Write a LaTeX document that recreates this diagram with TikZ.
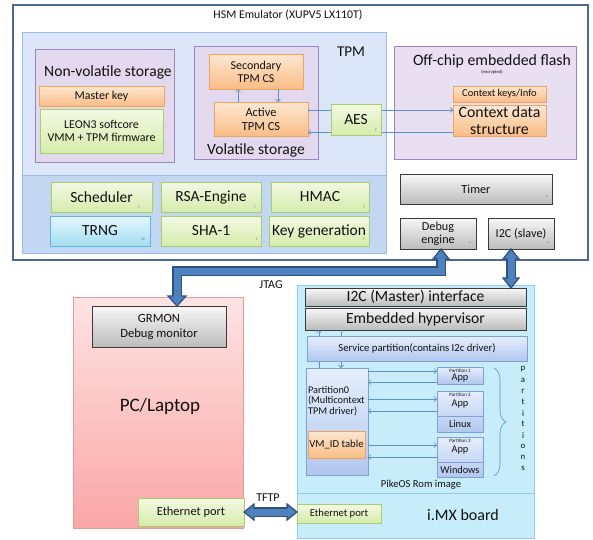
\documentclass[tikz,border=0pt]{standalone}
\usepackage{fontspec}
\setmainfont{Carlito}
\usetikzlibrary{calc,arrows.meta,shadows,decorations.pathreplacing}

\definecolor{ink}{HTML}{111111}
\definecolor{outerBd}{HTML}{4A6A94}
\definecolor{tpmFill}{HTML}{DBE6F9}
\definecolor{tpmLow}{HTML}{C3D7F3}
\definecolor{tpmBd}{HTML}{9DBBE6}
\definecolor{puFill}{HTML}{E3D9EE}
\definecolor{puLight}{HTML}{E8DFF2}
\definecolor{puBd}{HTML}{9A86BD}
\definecolor{orTop}{HTML}{FDE7D2}
\definecolor{orBot}{HTML}{F9BD86}
\definecolor{orBd}{HTML}{F0A35E}
\definecolor{grTop}{HTML}{F3F9E3}
\definecolor{grBot}{HTML}{D5ECAB}
\definecolor{grBd}{HTML}{A9CC6E}
\definecolor{cyTop}{HTML}{E4F6FD}
\definecolor{cyBot}{HTML}{A3DEF2}
\definecolor{cyBd}{HTML}{62B5D6}
\definecolor{gyTop}{HTML}{F7F7F7}
\definecolor{gyBot}{HTML}{BCBCBC}
\definecolor{gyBd}{HTML}{3A3A3A}
\definecolor{pcTop}{HTML}{FDE3E3}
\definecolor{pcBot}{HTML}{FBA6A6}
\definecolor{pcBd}{HTML}{E49A9A}
\definecolor{mxFill}{HTML}{C6EDF9}
\definecolor{mxBd}{HTML}{8CCFE6}
\definecolor{blTop}{HTML}{E6EEFC}
\definecolor{blBot}{HTML}{B2C7EF}
\definecolor{blBd}{HTML}{7F9FD5}
\definecolor{lnk}{HTML}{5D8FCB}
\definecolor{fatFill}{HTML}{4F81BD}
\definecolor{fatBd}{HTML}{2C5282}

\newcommand\setfs[2]{\fontsize{#1}{#2}\selectfont}

\begin{document}
\begin{tikzpicture}[x=1pt,y=-1pt,
  % a box given by its corners x1/y1/x2/y2
  rect/.style n args={4}{minimum width={#3-#1}, minimum height={#4-#2},
                         at={({(#1+#3)/2},{(#2+#4)/2})}, anchor=center},
  bx/.style={rectangle, inner sep=0pt, outer sep=0pt, align=center, text=ink, line width=0.7pt},
  softshadow/.style={drop shadow={shadow xshift=0.8pt, shadow yshift=-0.8pt, opacity=0.22}},
  orbox/.style={bx, softshadow, draw=orBd, top color=orTop, bottom color=orBot},
  grbox/.style={bx, softshadow, draw=grBd, top color=grTop, bottom color=grBot},
  cybox/.style={bx, softshadow, draw=cyBd, top color=cyTop, bottom color=cyBot},
  gybox/.style={bx, softshadow, draw=gyBd, top color=gyTop, bottom color=gyBot, line width=0.8pt},
  pubox/.style={bx, softshadow, draw=puBd, fill=puFill},
  blbox/.style={bx, softshadow, draw=blBd, top color=blTop, bottom color=blBot},
  lbl/.style={inner sep=0pt, outer sep=0pt, text=ink, align=center},
  tick/.style={inner sep=0pt, text=ink!70, font=\setfs{3.5}{4}},
  link/.style={draw=lnk, line width=0.6pt, -{Straight Barb[length=2.5pt,width=5pt]}},
  fatedge/.style={draw=fatBd, line width=9.5pt},
  fatbody/.style={draw=fatFill, line width=7pt},
  fathead/.style={fill=fatFill, draw=fatBd, line width=1.2pt, line join=miter},
]
\useasboundingbox (0,0) rectangle (593,539);

% ---------------- HSM emulator board ----------------
\node[bx, draw=outerBd, line width=1.1pt, fill=white, rect={13}{5}{588}{260}] (hsm) {};
\node[lbl, font=\setfs{11.8}{13}] (hsmtitle) at (288,15) {HSM Emulator (XUPV5 LX110T)};

% TPM block
\node[bx, draw=tpmBd, fill=tpmFill, rect={22}{32}{386}{253}] (tpm) {};
\node[bx, draw=tpmBd, fill=tpmLow, rect={22}{175}{386}{253}] (tpmlow) {};
\node[lbl, font=\setfs{15}{17}] (tpmlabel) at (351,52) {TPM};

% non-volatile storage
\node[pubox, rect={35}{49}{174}{162}] (nvs) {};
\node[lbl, font=\setfs{15.6}{18}] (nvslabel) at (108,72) {Non-volatile storage};
\node[orbox, font=\setfs{12}{13}, rect={39}{86}{164}{106}] (mkey) {Master key};
\node[grbox, font=\setfs{12}{13}, rect={40}{109}{163}{153}] (leon) {LEON3 softcore\\VMM + TPM firmware};

% volatile storage
\node[pubox, rect={194}{46}{318}{159}] (vs) {};
\node[lbl, font=\setfs{15.6}{18}] (vslabel) at (256,150) {Volatile storage};
\node[orbox, font=\setfs{12}{13}, rect={209}{54}{303}{89}] (sec) {Secondary\\TPM CS};
\node[orbox, font=\setfs{12.4}{13.5}, rect={214}{102}{308}{136}] (act) {Active\\TPM CS};

% off-chip flash
\node[pubox, fill=puLight, rect={394}{46}{576}{159}] (flash) {};
\node[lbl, font=\setfs{15.8}{18}] (flashlabel) at (492,61) {Off-chip embedded flash};
\node[lbl, font=\setfs{4.5}{5}] (enc) at (492,72) {(encrypted)};
\node[orbox, font=\setfs{10.5}{12}, rect={453}{86}{546}{102}] (ckeys) {Context keys/Info};
\node[orbox, font=\setfs{15.8}{16.5}, rect={453}{105}{546}{136}] (cdata) {Context data\\structure};

% context traffic
\draw[link] (238,0 |- act.north) -- (238,0 |- sec.south);
\draw[link] (278,0 |- sec.south) -- (278,0 |- act.north);
\draw[link] (act.east |- 0,110) -- (cdata.west |- 0,110);
\draw[link] (cdata.west |- 0,132) -- (act.east |- 0,132);
\node[grbox, font=\setfs{15.5}{17}, rect={331}{104}{381}{135}] (aes) {AES};

% TPM engines
\node[grbox, font=\setfs{15.5}{17}, rect={51}{182}{152}{212}] (sched) {Scheduler};
\node[grbox, font=\setfs{15.5}{17}, rect={161}{182}{261}{212}] (rsa) {RSA-Engine};
\node[grbox, font=\setfs{15.5}{17}, rect={271}{182}{369}{212}] (hmac) {HMAC};
\node[cybox, font=\setfs{15.5}{17}, rect={50}{216}{150}{246}] (trng) {TRNG};
\node[grbox, font=\setfs{15.5}{17}, rect={161}{216}{261}{246}] (sha) {SHA-1};
\node[grbox, font=\setfs{15.5}{17}, rect={269}{216}{369}{246}] (keygen) {Key generation};

% peripherals
\node[gybox, font=\setfs{12.3}{14}, rect={400}{174}{552}{204}] (timer) {Timer};
\node[gybox, font=\setfs{12.2}{13}, rect={400}{218}{476}{249}] (dbg) {Debug\\engine};
\node[gybox, font=\setfs{12.2}{13}, rect={488}{218}{554}{249}] (i2cs) {I2C (slave)};

% corner marks
\node[tick] (t1) at (139,207) {T};
\node[tick] (t2) at (255,207) {T};
\node[tick] (t3) at (364,207) {T};
\node[tick] (t4) at (143,239) {M};
\node[tick] (t5) at (257,239) {T};
\node[tick] (t6) at (364,239) {T};
\node[tick] (t7) at (376,130) {T};
\node[tick] (t8) at (547,197) {s};
\node[tick] (t9) at (470,243) {s};
\node[tick] (t10) at (548,243) {s};

% ---------------- PC / laptop ----------------
\node[bx, softshadow, draw=pcBd, top color=pcTop, bottom color=pcBot, rect={73}{297}{243}{528}] (pc) {};
\node[gybox, font=\setfs{12.6}{15}, rect={92}{306}{226}{347}] (grmon) {GRMON\\Debug monitor};
\node[lbl, font=\setfs{19}{22}] (pclabel) at (160,406) {PC/Laptop};
\node[grbox, font=\setfs{12.4}{14}, rect={138}{498}{244}{526}] (ethpc) {Ethernet port};

% ---------------- i.MX board ----------------
\node[bx, draw=mxBd, fill=mxFill, rect={297}{285}{534}{538}] (imx) {};
\draw[mxBd, line width=0.7pt] (imx.west |- 0,493) -- (imx.east |- 0,493);
\node[gybox, font=\setfs{15.6}{17}, rect={305}{288}{526}{306}] (i2cm) {I2C (Master) interface};
\node[gybox, font=\setfs{15.6}{17}, rect={305}{308}{526}{330}] (hyp) {Embedded hypervisor};
\node[blbox, rect={306}{368}{368}{475}] (p0) {};
\draw[link] (319,0 |- p0.north) -- (319,0 |- hyp.south);
\draw[link] (341,0 |- hyp.south) -- (341,0 |- p0.north);
\node[blbox, font=\setfs{10.7}{12}, rect={307}{336}{527}{361}] (svc) {Service partition(contains I2c driver)};
\node[lbl, font=\setfs{10.3}{10.4}, align=left, anchor=west] (p0text) at (308,401) {Partition0\\(Multicontext\\TPM driver)};
\node[orbox, font=\setfs{10.7}{12}, rect={308}{431}{365}{458}] (vmid) {VM\_ID table};

% guest partitions
\node[blbox, rect={437}{367}{483}{384}] (p1) {};
\node[lbl, font=\setfs{5}{6}] (p1name) at (460,370.5) {Partition 1};
\node[lbl, font=\setfs{10.3}{12}] (p1app) at (460,378.5) {App};

\node[blbox, rect={437}{391}{483}{432}] (p2) {};
\draw[blBd, line width=0.7pt] (p2.west |- 0,416) -- (p2.east |- 0,416);
\node[lbl, font=\setfs{5}{6}] (p2name) at (460,394.5) {Partition 2};
\node[lbl, font=\setfs{10.3}{12}] (p2app) at (460,404) {App};
\node[lbl, font=\setfs{10.3}{12}] (p2os) at (460,424) {Linux};

\node[blbox, rect={437}{437}{483}{477}] (p3) {};
\draw[blBd, line width=0.7pt] (p3.west |- 0,462) -- (p3.east |- 0,462);
\node[lbl, font=\setfs{5}{6}] (p3name) at (460,440.5) {Partition 3};
\node[lbl, font=\setfs{10.3}{12}] (p3app) at (460,450) {App};
\node[lbl, font=\setfs{10.3}{12}] (p3os) at (460,470) {Windows};

\draw[link] (p0.east |- 0,371) -- (p1.west |- 0,371);
\draw[link] (p1.west |- 0,382) -- (p0.east |- 0,382);
\draw[link] (p0.east |- 0,399) -- (p2.west |- 0,399);
\draw[link] (p2.west |- 0,411) -- (p0.east |- 0,411);
\draw[link] (p0.east |- 0,445) -- (p3.west |- 0,445);
\draw[link] (p3.west |- 0,457) -- (p0.east |- 0,457);

\draw[lnk, line width=0.6pt, decorate, decoration={brace, amplitude=12pt}] (494,368) -- (494,476);
\foreach \c [count=\i] in {p,a,r,t,i,t,i,o,n,s}
  \node[lbl, font=\setfs{8.8}{10}] (pt\i) at (523,{369+11*(\i-1)}) {\c};

\node[lbl, font=\setfs{10.6}{12}] (pike) at (421,485) {PikeOS Rom image};
\node[grbox, font=\setfs{10.6}{12}, rect={297}{504}{381}{523}] (ethmx) {Ethernet port};
\node[lbl, font=\setfs{16}{18}] (imxlabel) at (463,515) {i.MX board};

% ---------------- thick links ----------------
% JTAG
\coordinate (jtTop) at ([xshift=3pt]dbg.south);
\coordinate (jtBot) at ([xshift=18pt]grmon.north);
\draw[fatedge] ($(jtTop)+(0,9)$) |- (jtBot |- 0,271) -- ($(jtBot)+(0,-9)$);
\filldraw[fathead] (jtTop) -- ++(-8,10) -- ++(16,0) -- cycle;
\filldraw[fathead] (jtBot) -- ++(-9,-10) -- ++(18,0) -- cycle;
\draw[fatbody] ($(jtTop)+(0,9.3)$) |- (jtBot |- 0,271) -- ($(jtBot)+(0,-9.3)$);
\node[lbl, font=\setfs{12}{13}] (jtag) at (271,285) {JTAG};

% I2C
\coordinate (i2a) at (511,0 |- i2cs.south);
\coordinate (i2b) at (511,0 |- i2cm.north);
\draw[fatedge] ($(i2a)+(0,9)$) -- ($(i2b)+(0,-9)$);
\filldraw[fathead] (i2a) -- ++(-8,10) -- ++(16,0) -- cycle;
\filldraw[fathead] (i2b) -- ++(-8,-10) -- ++(16,0) -- cycle;
\draw[fatbody] ($(i2a)+(0,9.3)$) -- ($(i2b)+(0,-9.3)$);

% TFTP
\coordinate (tfa) at (ethpc.east);
\coordinate (tfb) at (ethmx.west |- ethpc.east);
\draw[fatedge] ($(tfa)+(9,0)$) -- ($(tfb)+(-9,0)$);
\filldraw[fathead] (tfa) -- ++(10,-8) -- ++(0,16) -- cycle;
\filldraw[fathead] (tfb) -- ++(-10,-8) -- ++(0,16) -- cycle;
\draw[fatbody] ($(tfa)+(9.3,0)$) -- ($(tfb)+(-9.3,0)$);
\node[lbl, font=\setfs{12}{13}] (tftp) at (268,498) {TFTP};
\end{tikzpicture}
\end{document}
